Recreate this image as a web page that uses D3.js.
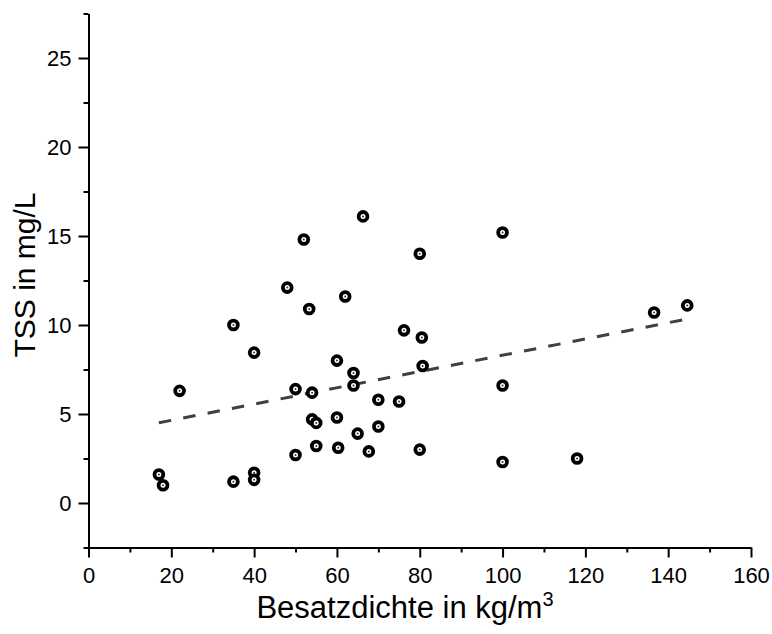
<!DOCTYPE html>
<html>
<head>
<meta charset="utf-8">
<script src="https://cdn.jsdelivr.net/npm/d3@7"></script>
<style>
  html, body { margin: 0; padding: 0; background: #fff; }
  svg { display: block; font-family: Arial, "Liberation Sans", sans-serif; }
</style>
</head>
<body>
<svg id="chart" width="772" height="634"></svg>
<script>
// Stocking density (kg/m³) and total suspended solids (mg/L) per sample
const density = [17, 18, 22, 35, 35, 40, 40, 40, 48, 50, 50, 52, 53.3, 54, 54, 55, 55,
                 60, 60, 60.3, 62, 64, 64, 65, 66.3, 67.7, 70, 70, 75, 76.2,
                 80, 80.5, 80.7, 80, 100, 100, 100, 118, 136.6, 144.6];
const tss     = [1.6, 1.0, 6.3, 1.2, 10.0, 1.7, 1.3, 8.45, 12.1, 6.4, 2.7, 14.8, 10.9, 6.2, 4.7, 4.5, 3.2,
                 8.0, 4.8, 3.1, 11.6, 7.3, 6.6, 3.9, 16.1, 2.9, 5.8, 4.3, 5.7, 9.7,
                 14.0, 9.3, 7.7, 3.0, 15.2, 6.6, 2.3, 2.5, 10.7, 11.1];

// Linear fit: TSS = intercept + slope * density
const fitIntercept = 3.73;
const fitSlope = 0.0457;
const fitRange = [17, 145];

const xTicks = [0, 20, 40, 60, 80, 100, 120, 140, 160];
const xMinor = [10, 30, 50, 70, 90, 110, 130, 150];
const yTicks = [0, 5, 10, 15, 20, 25];
const yMinor = [-2.5, 2.5, 7.5, 12.5, 17.5, 22.5, 27.5];

const svg = d3.select("#chart");
const x = d3.scaleLinear().domain([0, 160]).range([88.5, 751]);
const y = d3.scaleLinear().domain([-2.5, 27.5]).range([547.5, 13.5]);

const axisColor = "#000";

// X axis
const gx = svg.append("g").attr("transform", `translate(0,${y(-2.5)})`);
gx.call(d3.axisBottom(x).tickValues(xTicks).tickSize(10).tickSizeOuter(0).tickPadding(10).tickFormat(d3.format("d")));
gx.append("g").call(d3.axisBottom(x).tickValues(xMinor).tickSize(5).tickSizeOuter(0).tickFormat(""))
  .select(".domain").remove();

// Y axis
const gy = svg.append("g").attr("transform", `translate(${x(0)},0)`);
gy.call(d3.axisLeft(y).tickValues(yTicks).tickSize(10).tickSizeOuter(0).tickPadding(7).tickFormat(d3.format("d")));
gy.append("g").call(d3.axisLeft(y).tickValues(yMinor).tickSize(5).tickSizeOuter(0).tickFormat(""))
  .select(".domain").remove();

svg.selectAll(".domain").attr("stroke", axisColor).attr("stroke-width", 2);
svg.selectAll(".tick line").attr("stroke", axisColor).attr("stroke-width", 2);
svg.selectAll(".tick text").attr("font-size", 22).attr("fill", "#000")
  .attr("font-family", "Arial, 'Liberation Sans', sans-serif");

// Axis titles
const xTitle = svg.append("text")
  .attr("x", 405).attr("y", 618)
  .attr("text-anchor", "middle")
  .attr("font-size", 31)
  .attr("fill", "#000");
xTitle.append("tspan").text("Besatzdichte in kg/m");
xTitle.append("tspan").attr("font-size", 20).attr("dy", -12).text("3");

svg.append("text")
  .attr("transform", `translate(35,275) rotate(-90)`)
  .attr("text-anchor", "middle")
  .attr("font-size", 30)
  .attr("fill", "#000")
  .text("TSS in mg/L");

// Regression line
svg.append("line")
  .attr("x1", x(fitRange[0])).attr("y1", y(fitIntercept + fitSlope * fitRange[0]))
  .attr("x2", x(fitRange[1])).attr("y2", y(fitIntercept + fitSlope * fitRange[1]))
  .attr("stroke", "#404040")
  .attr("stroke-width", 3)
  .attr("stroke-dasharray", "12.5,12.3");

// Data points
const pts = svg.append("g").selectAll("g")
  .data(density.map((d, i) => [d, tss[i]]))
  .join("g")
  .attr("transform", d => `translate(${x(d[0])},${y(d[1])})`);
pts.append("circle").attr("r", 4.4).attr("fill", "#fff").attr("stroke", "#000").attr("stroke-width", 3.8);
pts.append("circle").attr("r", 1).attr("fill", "#333");
</script>
</body>
</html>
